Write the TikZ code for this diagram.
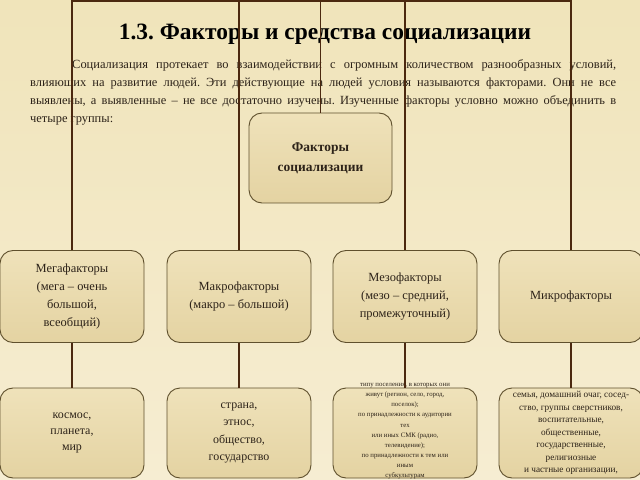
\documentclass[tikz,border=0pt]{standalone}
\usepackage{fontspec}
\setmainfont{Liberation Serif}
\frenchspacing
\definecolor{bgtop}{RGB}{240,228,186}
\definecolor{bgbot}{RGB}{246,237,210}
\definecolor{boxtop}{RGB}{239,226,186}
\definecolor{boxbot}{RGB}{228,211,162}
\definecolor{boxline}{RGB}{95,80,45}
\definecolor{linkcol}{RGB}{75,40,15}
\definecolor{txt}{RGB}{45,35,25}
\tikzset{
  factbox/.style={rectangle,rounded corners=13bp,draw=boxline,line width=0.9bp,top color=boxtop,bottom color=boxbot,align=center,text=txt,minimum width=144bp,minimum height=92bp,inner sep=1bp},
  groupfont/.style={font=\fontsize{12.5}{18}\selectfont},
  link/.style={draw=linkcol,line width=1.8bp},
}
\begin{document}
\begin{tikzpicture}[x=1bp,y=-1bp]
			\fill[top color=bgtop,bottom color=bgbot] (0,0) rectangle (640,480);
			\useasboundingbox (0,0) rectangle (640,480);

			\node at (325,40) [anchor=base,font=\bfseries\fontsize{23.5}{26}\selectfont] (title) {1.3. Факторы и средства социализации};
			\node at (30,59) [anchor=north west,inner sep=0pt,text width=586bp,align=justify,text=txt,font=\fontsize{12.5}{18.2}\selectfont] (intro)
			{\hspace*{42bp}Социализация протекает во взаимодействии с огромным количеством разнообразных условий,\linebreak влияющих на развитие людей. Эти действующие на людей условия называются факторами. Они не все\linebreak выявлены, а выявленные – не все достаточно изучены. Изученные факторы условно можно объединить в\linebreak четыре группы:};

			\node at (320.5,158) [factbox,minimum width=143bp,minimum height=90bp,font=\bfseries\fontsize{13.5}{20}\selectfont] (factors) {Факторы\\социализации};

			\node at ( 72,296.5) [factbox,groupfont] (mega)  {Мегафакторы\\(мега – очень\\большой,\\всеобщий)};
			\node at (239,296.5) [factbox,groupfont] (makro) {Макрофакторы\\(макро – большой)};
			\node at (405,296.5) [factbox,groupfont] (mezo)  {Мезофакторы\\(мезо – средний,\\промежуточный)};
			\node at (571,296.5) [factbox,groupfont] (mikro) {Микрофакторы};

			\node at ( 72,433) [factbox,minimum height=90bp,font=\fontsize{12}{16.5}\selectfont] (kosmos) {космос,\\планета,\\мир};
			\node at (239,433) [factbox,minimum height=90bp,font=\fontsize{12}{17.5}\selectfont] (strana) {страна,\\этнос,\\общество,\\государство};
			\node at (405,433) [factbox,minimum height=90bp,font=\fontsize{6.8}{10.2}\selectfont] (mezoex)
			{\smash{\parbox{142bp}{\centering типу поселения, в которых они\\живут (регион, село, город,\\поселок);\\по принадлежности к аудитории\\тех\\или иных СМК (радио,\\телевидение);\\по принадлежности к тем или\\иным\\субкультурам}}};
			\node at (571,433) [factbox,minimum height=90bp,font=\fontsize{9.3}{12.6}\selectfont] (mikroex)
			{семья, домашний очаг, сосед-\\ство, группы сверстников,\\воспитательные,\\общественные,\\государственные,\\религиозные\\и частные организации,};

			\coordinate (top) at (factors.north |- 0,1);
			\draw[link] (factors.north) -- (top);
			\draw[link] (mega.north) -- (mega.north |- top) -- (mikro.north |- top) -- (mikro.north);
			\draw[link] (makro.north) -- (makro.north |- top);
			\draw[link] (mezo.north) -- (mezo.north |- top);

			\draw[link] (mega)  -- (kosmos);
			\draw[link] (makro) -- (strana);
			\draw[link] (mezo)  -- (mezoex);
			\draw[link] (mikro) -- (mikroex);
		\end{tikzpicture}
\end{document}
